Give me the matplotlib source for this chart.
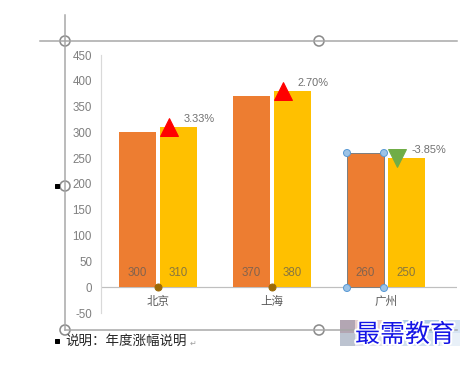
import matplotlib
matplotlib.use("Agg")
import matplotlib.pyplot as plt
import matplotlib.patheffects as pe
from matplotlib.patches import Circle, Rectangle
import numpy as np

plt.rcParams['font.family'] = ['Noto Sans CJK SC', 'DejaVu Sans']

# ---- data ----
categories = ['北京', '上海', '广州']
last_year = [300, 370, 260]
this_year = [310, 380, 250]
y_ticks = [-50, 0, 50, 100, 150, 200, 250, 300, 350, 400, 450]
note_text = '说明：年度涨幅说明'
watermark_text = '最需教育'

change = [(b - a) / a * 100 for a, b in zip(last_year, this_year)]

# ---- style ----
ORANGE = '#ED7D31'
YELLOW = '#FFC000'
RED = '#FF0000'
GREEN = '#70AD47'
W, H = 474, 370
DPI = 72

fig = plt.figure(figsize=(W / DPI, H / DPI), dpi=DPI)
fig.patch.set_facecolor('white')

# plot area in pixels
left_px, right_px, top_px, bottom_px = 101, 457, 55, 313
ax = fig.add_axes([left_px / W, (H - bottom_px) / H,
                   (right_px - left_px) / W, (bottom_px - top_px) / H])
ax.set_facecolor('none')

x = np.arange(len(categories))
bw = 0.325
off = 0.18
bars1 = ax.bar(x - off, last_year, bw, color=ORANGE, zorder=2)
bars2 = ax.bar(x + off, this_year, bw, color=YELLOW, zorder=2)
# selected bar outline (Guangzhou)
bars1[2].set_edgecolor('#7f7f7f')
bars1[2].set_linewidth(1.0)

ax.set_xlim(-0.5, 2.623)
ax.set_ylim(-50, 450)
ax.set_yticks(y_ticks)
ax.set_yticklabels([str(v) for v in y_ticks], family='Liberation Sans',
                   fontsize=11.5, color='#7f7f7f')
ax.tick_params(axis='y', length=0, pad=9)
ax.set_xticks([])
for s in ['top', 'right', 'bottom']:
    ax.spines[s].set_visible(False)
ax.spines['left'].set_color('#d9d9d9')
ax.spines['left'].set_linewidth(1.2)
ax.axhline(0, color='#bfbfbf', lw=1.2, zorder=1)

# value labels inside bars
for i in range(len(categories)):
    for xv, v in ((x[i] - off, last_year[i]), (x[i] + off, this_year[i])):
        ax.annotate(str(v), (xv, 0), xytext=(0, 14), textcoords='offset points',
                    ha='center', va='center', fontsize=11.5, family='Liberation Sans',
                    color='#595959', alpha=0.72, zorder=4)
    ax.annotate(categories[i], (x[i], 0), xytext=(0, -14), textcoords='offset points',
                ha='center', va='center', fontsize=11.5, color='#595959')

# change markers
for i, c in enumerate(change):
    mk = '^' if c > 0 else 'v'
    col = RED if c > 0 else GREEN
    ax.plot(x[i] + 0.096, this_year[i], marker=mk, ms=18, color=col,
            mec=col, ls='none', zorder=5, clip_on=False)
    ax.annotate(f'{c:.2f}%', (x[i] + 0.096, this_year[i]), xytext=(15, 8),
                textcoords='offset points', ha='left', va='center',
                fontsize=11, family='Liberation Sans', color='#707070')

# gold points on axis (first two categories)
ax.plot(x[:2], [0, 0], 'o', ms=7, color='#9c6a08', zorder=6, clip_on=False)

# ---- overlay: selection frame, handles, note, watermark ----
ov = fig.add_axes([0, 0, 1, 1], zorder=10)
ov.set_xlim(0, W)
ov.set_ylim(H, 0)
ov.axis('off')
ov.set_facecolor('none')

fc = '#a6a6a6'
ov.plot([40, 457], [41, 41], color=fc, lw=1.5)
ov.plot([65, 65], [15, 330], color=fc, lw=1.5)
ov.plot([65, 457], [330, 330], color=fc, lw=1.5)
for (hx, hy) in [(65, 41), (319, 41), (65, 186), (65, 330), (319, 330)]:
    ov.add_patch(Circle((hx, hy), 5, facecolor='white', edgecolor='#8c8c8c', lw=1.6))
for (sx, sy) in [(57, 186), (57, 341)]:
    ov.add_patch(Rectangle((sx - 2, sy - 2), 4, 4, color='black'))

# blue selection handles on Guangzhou orange bar
for (hx, hy) in [(347, 288), (384, 288), (347, 153), (384, 153)]:
    ov.add_patch(Circle((hx, hy), 3.5, facecolor='#9dc3e6', edgecolor='#5b9bd5', lw=1))

ov.text(65, 341, note_text, fontsize=13.5, color='#262626', ha='left', va='center')
ov.text(190, 343, '↵', fontsize=8, color='#a0a0a0', ha='left', va='center')

# watermark background blocks
blocks = [
    (340, 320, 15, 13, '#b3a6b3'), (340, 333, 15, 13, '#bcc3d0'),
    (355, 320, 45, 13, '#e6d0d0'), (355, 333, 45, 13, '#e0e0ea'),
    (400, 320, 40, 13, '#b3cde6'), (400, 333, 40, 13, '#d0dfef'),
    (440, 320, 20, 13, '#d6e4f3'), (440, 333, 20, 13, '#e8f0f8'),
]
for bx, by, bwid, bh, bc in blocks:
    ov.add_patch(Rectangle((bx, by), bwid, bh, color=bc, lw=0))
ov.text(405, 335, watermark_text, fontsize=25, color='#1414e6', ha='center',
        va='center', path_effects=[pe.withStroke(linewidth=4, foreground='white')])

fig.savefig('out.png', dpi=DPI, facecolor='white')
